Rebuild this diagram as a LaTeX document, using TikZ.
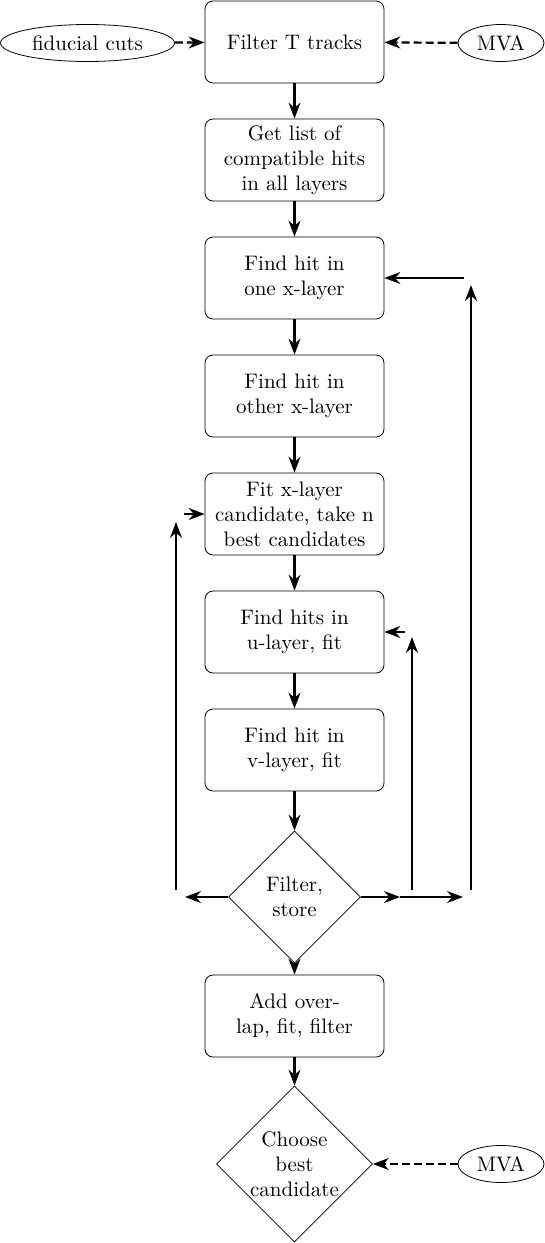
\documentclass[tikz,border=0pt]{standalone}
\usetikzlibrary{arrows.meta,shapes.geometric}
\tikzset{
  stepbox/.style={draw, rounded corners=4pt, minimum width=89.5pt, minimum height=41pt, align=center, inner sep=2pt},
  decision/.style={draw, diamond, aspect=1, align=center, inner sep=0pt},
  inputs/.style={draw, ellipse, minimum height=18.5pt, inner sep=1pt},
  flow/.style={->, line width=1.1pt},
  feed/.style={->, line width=1.1pt, dash pattern=on 4pt off 2pt},
}

\begin{document}
\begin{tikzpicture}[x=0.5pt, y=-0.5pt, >=Stealth, font=\fontsize{10.5}{12.5}\selectfont]
    \useasboundingbox (0,0) rectangle (545,1243);

    % 主流程
    \node[stepbox] (filter) at (294.5,42) {Filter T tracks};
    \node[stepbox] (hits) at (294.5,160) {Get list of\\compatible hits\\in all layers};
    \node[stepbox] (xone) at (294.5,278) {Find hit in\\one x-layer};
    \node[stepbox] (xother) at (294.5,396) {Find hit in\\other x-layer};
    \node[stepbox] (xfit) at (294.5,514) {Fit x-layer\\candidate, take n\\best candidates};
    \node[stepbox] (ufit) at (294.5,632) {Find hits in\\u-layer, fit};
    \node[stepbox] (vfit) at (294.5,750) {Find hit in\\v-layer, fit};
    \node[decision, minimum size=66pt] (store) at (294.5,897) {Filter,\\store};
    \node[stepbox] (overlap) at (294.5,1016) {Add over-\\lap, fit, filter};
    \node[decision, minimum size=78pt] (best) at (294.5,1164) {Choose\\best\\candidate};

    % 输入
    \node[inputs, minimum width=87pt] (fid) at (87.5,43) {fiducial cuts};
    \node[inputs, minimum width=43pt] (mvatop) at (501,43) {MVA};
    \node[inputs, minimum width=43pt] (mvabot) at (501,1164) {MVA};

    \foreach \a/\b in {filter/hits, hits/xone, xone/xother, xother/xfit, xfit/ufit, ufit/vfit, vfit/store, store/overlap, overlap/best}
        \draw[flow] (\a) -- (\b);

    \draw[feed] (fid) -- (filter);
    \draw[feed] (mvatop) -- (filter);
    \draw[feed] (mvabot) -- (best);

    % 回路
    \coordinate (lend) at (185,897);
    \coordinate (lbot) at (176,890);
    \coordinate (ltop) at (176,522);
    \coordinate (lin) at (184,514);
    \coordinate (rmid) at (400,897);
    \coordinate (rend) at (463,897);
    \coordinate (ubot) at (412,890);
    \coordinate (utop) at (412,637);
    \coordinate (xbot) at (471,890);
    \coordinate (xtop) at (471,285);
    \coordinate (xin) at (464,278);
    \coordinate (uin) at (405,632);

    \draw[flow] (store.west) -- (lend);
    \draw[flow] (lbot) -- (ltop);
    \draw[flow] (lin) -- (xfit.west);
    \draw[flow] (store.east) -- (rmid);
    \draw[flow] (rmid) -- (rend);
    \draw[flow] (ubot) -- (utop);
    \draw[flow] (xbot) -- (xtop);
    \draw[flow] (xin) -- (xone.east);
    \draw[flow] (uin) -- (ufit.east);
\end{tikzpicture}
\end{document}
